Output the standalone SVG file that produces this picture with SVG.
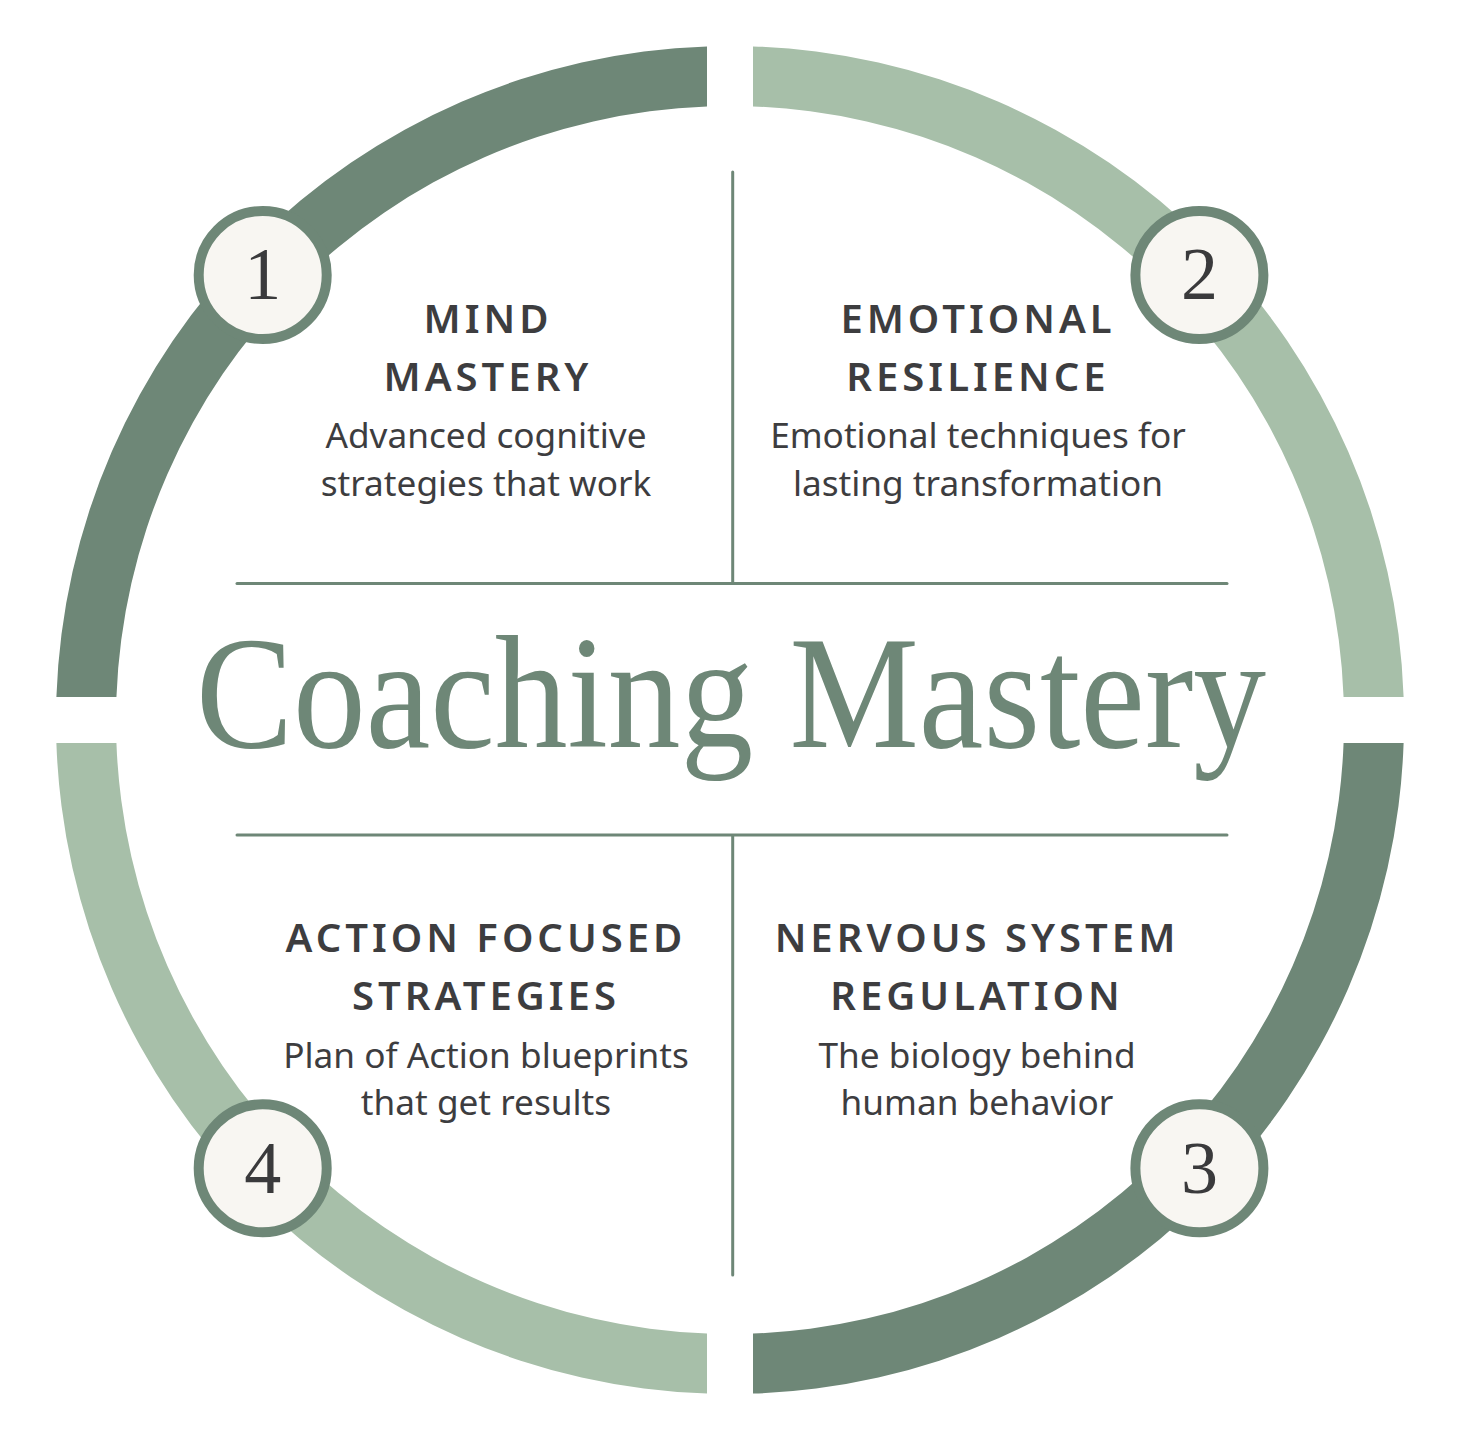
<svg xmlns="http://www.w3.org/2000/svg" width="1462" height="1440" viewBox="0 0 1462 1440">
<style>
.dark{fill:#6e8777}
.light{fill:#a7bfa9}
.badge{fill:#f8f6f2;stroke:#6e8777;stroke-width:10}
.num{font-family:"Liberation Serif","Times New Roman",serif;font-size:74px;fill:#3a3a3c;text-anchor:middle}
.head{font-family:"Noto Sans","Open Sans",sans-serif;font-weight:600;font-size:40px;letter-spacing:4px;fill:#3d3d3f;text-anchor:middle}
.body{font-family:"Noto Sans","Open Sans",sans-serif;font-size:35.2px;fill:#3d3d3f;text-anchor:middle}
.title{font-family:"Liberation Serif","Times New Roman",serif;font-size:160px;fill:#6e8777}
.rule{stroke:#6e8777;stroke-width:3;stroke-linecap:round;fill:none}
</style>
<rect width="1462" height="1440" fill="#ffffff"/>
<g id="ring">
<path id="arc-tl" class="dark" d="M56.39,697 A674,674 0 0 1 707,46.39 L707,106.43 A614,614 0 0 0 116.43,697 Z"/>
<path id="arc-tr" class="light" d="M753,46.39 A674,674 0 0 1 1403.61,697 L1343.57,697 A614,614 0 0 0 753,106.43 Z"/>
<path id="arc-br" class="dark" d="M1403.61,743 A674,674 0 0 1 753,1393.61 L753,1333.57 A614,614 0 0 0 1343.57,743 Z"/>
<path id="arc-bl" class="light" d="M707,1393.61 A674,674 0 0 1 56.39,743 L116.43,743 A614,614 0 0 0 707,1333.57 Z"/>
</g>
<g id="connectors">
<line class="rule" x1="732.7" y1="172" x2="732.7" y2="582"/>
<line class="rule" x1="237" y1="583.5" x2="1227" y2="583.5"/>
<line class="rule" x1="237" y1="835" x2="1227" y2="835"/>
<line class="rule" x1="732.7" y1="836" x2="732.7" y2="1275"/>
</g>
<g id="title">
<text class="title" x="196" y="747" textLength="1070" lengthAdjust="spacingAndGlyphs">Coaching Mastery</text>
</g>
<g id="node-1">
<circle class="badge" cx="262.7" cy="275" r="64"/>
<text class="num" x="262.7" y="299">1</text>
</g>
<g id="node-2">
<circle class="badge" cx="1199.4" cy="275" r="64"/>
<text class="num" x="1199.4" y="299">2</text>
</g>
<g id="node-3">
<circle class="badge" cx="1199.4" cy="1168.3" r="64"/>
<text class="num" x="1199.4" y="1192.5">3</text>
</g>
<g id="node-4">
<circle class="badge" cx="262.7" cy="1168.3" r="64"/>
<text class="num" x="262.7" y="1192.5">4</text>
</g>
<g id="quad-1">
<text class="head" x="488" y="333">MIND</text>
<text class="head" x="488" y="391">MASTERY</text>
<text class="body" x="486" y="448">Advanced cognitive</text>
<text class="body" x="486" y="496">strategies that work</text>
</g>
<g id="quad-2">
<text class="head" x="978" y="333">EMOTIONAL</text>
<text class="head" x="978" y="391">RESILIENCE</text>
<text class="body" x="978" y="448">Emotional techniques for</text>
<text class="body" x="978" y="496">lasting transformation</text>
</g>
<g id="quad-3">
<text class="head" x="977" y="952">NERVOUS SYSTEM</text>
<text class="head" x="977" y="1010">REGULATION</text>
<text class="body" x="977" y="1068">The biology behind</text>
<text class="body" x="977" y="1115">human behavior</text>
</g>
<g id="quad-4">
<text class="head" x="486" y="952">ACTION FOCUSED</text>
<text class="head" x="486" y="1010">STRATEGIES</text>
<text class="body" x="486" y="1068">Plan of Action blueprints</text>
<text class="body" x="486" y="1115">that get results</text>
</g>
</svg>
